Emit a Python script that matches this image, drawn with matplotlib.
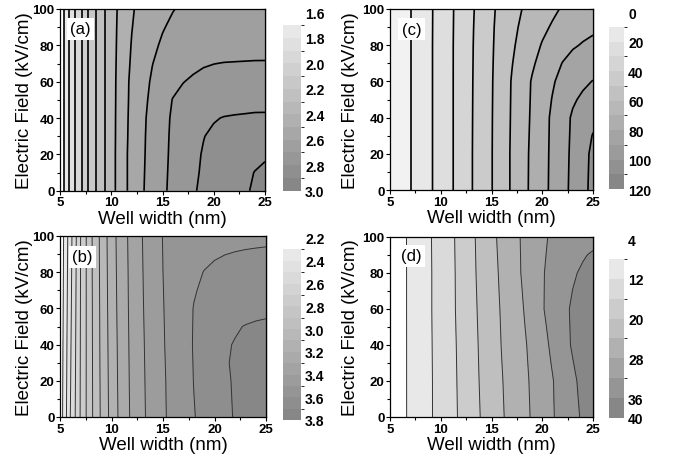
import numpy as np
import matplotlib
matplotlib.use("Agg")
import matplotlib.pyplot as plt
from matplotlib.colors import ListedColormap, BoundaryNorm
from matplotlib.cm import ScalarMappable
from matplotlib.ticker import MultipleLocator

plt.rcParams['font.family'] = ['Liberation Sans', 'DejaVu Sans']

# grid the maps were read on
well_width = [5, 6, 7, 8, 9, 10, 11, 12, 13, 14, 15, 16, 17, 18, 19, 20, 21, 22, 23, 24, 25]
e_field = [0, 10, 20, 30, 40, 50, 60, 70, 80, 90, 100]

# (a) one row per field value
za = [
    [1.63, 1.83, 1.98, 2.14, 2.26, 2.36, 2.46, 2.53, 2.59, 2.64, 2.685, 2.72, 2.755, 2.795, 2.81, 2.83, 2.85, 2.87, 2.89, 2.91, 2.93],
    [1.63, 1.83, 1.98, 2.14, 2.26, 2.36, 2.46, 2.53, 2.5875, 2.6375, 2.6825, 2.7175, 2.7525, 2.79, 2.8075, 2.825, 2.8425, 2.86, 2.882, 2.902, 2.915],
    [1.63, 1.83, 1.98, 2.14, 2.26, 2.36, 2.46, 2.53, 2.585, 2.635, 2.68, 2.715, 2.75, 2.785, 2.805, 2.82, 2.835, 2.85, 2.865, 2.878, 2.89],
    [1.63, 1.83, 1.98, 2.14, 2.26, 2.36, 2.457, 2.527, 2.583, 2.633, 2.678, 2.713, 2.745, 2.775, 2.798, 2.812, 2.82, 2.826, 2.83, 2.833, 2.835],
    [1.63, 1.83, 1.98, 2.14, 2.26, 2.36, 2.455, 2.525, 2.58, 2.63, 2.675, 2.71, 2.74, 2.765, 2.78, 2.795, 2.803, 2.806, 2.808, 2.81, 2.81],
    [1.63, 1.83, 1.98, 2.14, 2.26, 2.36, 2.452, 2.522, 2.575, 2.62, 2.66, 2.703, 2.72, 2.738, 2.75, 2.76, 2.766, 2.771, 2.774, 2.777, 2.778],
    [1.63, 1.83, 1.98, 2.14, 2.26, 2.36, 2.45, 2.52, 2.57, 2.61, 2.645, 2.675, 2.698, 2.71, 2.72, 2.728, 2.734, 2.738, 2.741, 2.743, 2.745],
    [1.63, 1.83, 1.98, 2.14, 2.26, 2.36, 2.445, 2.512, 2.56, 2.598, 2.628, 2.653, 2.672, 2.685, 2.694, 2.699, 2.702, 2.703, 2.704, 2.705, 2.705],
    [1.63, 1.83, 1.98, 2.14, 2.26, 2.36, 2.44, 2.505, 2.55, 2.585, 2.61, 2.63, 2.645, 2.655, 2.662, 2.667, 2.67, 2.672, 2.673, 2.674, 2.675],
    [1.63, 1.83, 1.98, 2.14, 2.26, 2.36, 2.435, 2.497, 2.54, 2.572, 2.595, 2.613, 2.627, 2.636, 2.643, 2.647, 2.65, 2.652, 2.654, 2.655, 2.656],
    [1.63, 1.83, 1.98, 2.14, 2.26, 2.36, 2.43, 2.49, 2.53, 2.56, 2.58, 2.597, 2.61, 2.618, 2.624, 2.628, 2.632, 2.635, 2.637, 2.639, 2.64],
]
levels_a = [1.6, 1.7, 1.8, 1.9, 2.0, 2.1, 2.2, 2.3, 2.4, 2.5, 2.6, 2.7, 2.8, 2.9, 3.0]
ticks_a = [1.6, 1.8, 2.0, 2.2, 2.4, 2.6, 2.8, 3.0]

# (b)
zb = [
    [2.233, 2.5, 2.71, 2.877, 3.013, 3.135, 3.239, 3.319, 3.384, 3.4375, 3.4875, 3.526, 3.561, 3.596, 3.625, 3.653, 3.681, 3.706, 3.726, 3.744, 3.76],
    [2.231, 2.496, 2.709, 2.8775, 3.0145, 3.137, 3.241, 3.3205, 3.3855, 3.439, 3.489, 3.5265, 3.563, 3.599, 3.629, 3.6565, 3.683, 3.708, 3.728, 3.746, 3.76],
    [2.229, 2.492, 2.708, 2.878, 3.016, 3.139, 3.243, 3.322, 3.387, 3.44, 3.49, 3.527, 3.565, 3.602, 3.633, 3.66, 3.685, 3.71, 3.73, 3.748, 3.76],
    [2.227, 2.4885, 2.707, 2.8785, 3.0175, 3.141, 3.2445, 3.3235, 3.3885, 3.4415, 3.492, 3.5285, 3.5675, 3.6035, 3.6325, 3.659, 3.694, 3.708, 3.725, 3.74, 3.75],
    [2.225, 2.485, 2.706, 2.879, 3.019, 3.143, 3.246, 3.325, 3.39, 3.443, 3.494, 3.53, 3.57, 3.605, 3.632, 3.658, 3.692, 3.704, 3.72, 3.732, 3.74],
    [2.223, 2.481, 2.705, 2.88, 3.02, 3.1455, 3.248, 3.3265, 3.392, 3.4445, 3.4955, 3.53, 3.57, 3.604, 3.63, 3.652, 3.672, 3.693, 3.703, 3.71, 3.715],
    [2.221, 2.477, 2.704, 2.88, 3.021, 3.148, 3.25, 3.328, 3.394, 3.446, 3.497, 3.53, 3.568, 3.603, 3.625, 3.642, 3.655, 3.665, 3.672, 3.677, 3.68],
    [2.219, 2.4735, 2.703, 2.881, 3.0225, 3.15, 3.2515, 3.329, 3.3955, 3.447, 3.4985, 3.53, 3.564, 3.594, 3.6135, 3.6275, 3.638, 3.646, 3.651, 3.655, 3.657],
    [2.217, 2.47, 2.702, 2.882, 3.024, 3.152, 3.253, 3.33, 3.397, 3.448, 3.5, 3.53, 3.56, 3.585, 3.602, 3.613, 3.621, 3.627, 3.631, 3.634, 3.635],
    [2.215, 2.466, 2.701, 2.8825, 3.0255, 3.154, 3.255, 3.3315, 3.3985, 3.4495, 3.5015, 3.5285, 3.5525, 3.5715, 3.5845, 3.593, 3.599, 3.603, 3.606, 3.608, 3.61],
    [2.2125, 2.4625, 2.7, 2.883, 3.027, 3.156, 3.257, 3.333, 3.4, 3.451, 3.503, 3.527, 3.545, 3.558, 3.567, 3.573, 3.577, 3.58, 3.582, 3.584, 3.585],
]
levels_b = [2.2, 2.3, 2.4, 2.5, 2.6, 2.7, 2.8, 2.9, 3.0, 3.1, 3.2, 3.3, 3.4, 3.5, 3.6, 3.7, 3.8]
ticks_b = [2.2, 2.4, 2.6, 2.8, 3.0, 3.2, 3.4, 3.6, 3.8]

# (c)
zc = [
    [1, 5, 9.7, 14.4, 19.1, 23.9, 28.8, 34.1, 39.4, 44.5, 49.6, 55.3, 61.1, 66.7, 72, 77, 82, 87.1, 92.2, 97.4, 102.6],
    [1, 5, 9.7, 14.4, 19.1, 23.9, 28.8, 34.1, 39.4, 44.5, 49.6, 55.3, 61.1, 66.65, 71.9, 76.9, 81.9, 86.95, 92, 97.2, 102.3],
    [1, 5, 9.7, 14.4, 19.1, 23.9, 28.8, 34.1, 39.4, 44.5, 49.6, 55.3, 61.1, 66.6, 71.8, 76.8, 81.8, 86.8, 91.8, 97, 102],
    [1, 5, 9.7, 14.4, 19.1, 23.9, 28.8, 34.1, 39.35, 44.45, 49.55, 55.2, 60.95, 66.4, 71.5, 76.55, 81.7, 86.5, 91.5, 96.3, 100.4],
    [1, 5, 9.7, 14.4, 19.1, 23.9, 28.8, 34.1, 39.3, 44.4, 49.5, 55.1, 60.8, 66.2, 71.2, 76.3, 81.6, 86.2, 91.2, 94.5, 98],
    [1, 5, 9.7, 14.4, 19.1, 23.9, 28.8, 34.1, 39.25, 44.3, 49.4, 55.05, 60.65, 65.9, 70.95, 75.7, 80.4, 84.8, 88.8, 91.6, 94],
    [1, 5, 9.7, 14.4, 19.1, 23.9, 28.8, 34.1, 39.2, 44.2, 49.3, 55, 60.5, 65.6, 70.7, 75, 79, 82.8, 85.8, 88.3, 90.3],
    [1, 5, 9.7, 14.4, 19.1, 23.9, 28.8, 34.05, 39.1, 44.1, 49.15, 54.4, 59.6, 64.2, 68.8, 72.8, 76.3, 80.3, 82.8, 84.5, 86],
    [1, 5, 9.7, 14.4, 19.1, 23.9, 28.8, 34.0, 39.0, 44.0, 49.0, 53.8, 58.6, 62.8, 66.8, 70.6, 73.4, 76.3, 79.1, 80.6, 81.5],
    [1, 5, 9.7, 14.4, 19.05, 23.85, 28.7, 33.9, 38.8, 43.8, 48.8, 53.3, 57.5, 61.5, 64.8, 68.1, 70.9, 73.5, 75.9, 77.5, 78.8],
    [1, 5, 9.7, 14.4, 19.0, 23.8, 28.6, 33.8, 38.5, 43.5, 48.5, 52.6, 56.3, 60, 62.8, 65.6, 68.3, 70.8, 72.8, 74.5, 76],
]
levels_c = [0, 10, 20, 30, 40, 50, 60, 70, 80, 90, 100, 110, 120]
ticks_c = [0, 20, 40, 60, 80, 100, 120]

# (d)
zd = [
    [5.4, 7.0, 8.56, 10.1, 11.7, 13.3, 14.9, 16.6, 18.4, 20.2, 21.9, 23.6, 25.2, 26.8, 28.3, 30.0, 31.7, 33.3, 34.9, 36.5, 38.0],
    [5.4, 7.0, 8.565, 10.1, 11.7, 13.325, 14.95, 16.65, 18.5, 20.3, 22.0, 23.7, 25.3, 26.85, 28.4, 30.1, 31.75, 33.45, 35.1, 36.75, 38.25],
    [5.4, 7.0, 8.57, 10.1, 11.7, 13.35, 15.0, 16.7, 18.6, 20.4, 22.1, 23.8, 25.4, 26.9, 28.5, 30.2, 31.8, 33.6, 35.3, 37.0, 38.5],
    [5.4, 7.0, 8.57, 10.1, 11.725, 13.375, 15.05, 16.75, 18.65, 20.5, 22.2, 23.95, 25.5, 27.05, 28.7, 30.5, 32.25, 34.1, 35.85, 37.5, 38.85],
    [5.4, 7.0, 8.57, 10.1, 11.75, 13.4, 15.1, 16.8, 18.7, 20.6, 22.3, 24.1, 25.6, 27.2, 28.9, 30.8, 32.7, 34.6, 36.4, 38.0, 39.2],
    [5.4, 7.0, 8.575, 10.125, 11.775, 13.45, 15.15, 16.9, 18.8, 20.7, 22.45, 24.2, 25.8, 27.45, 29.25, 31.25, 33.05, 34.8, 36.45, 38.0, 39.25],
    [5.4, 7.0, 8.58, 10.15, 11.8, 13.5, 15.2, 17.0, 18.9, 20.8, 22.6, 24.3, 26.0, 27.7, 29.6, 31.7, 33.4, 35.0, 36.5, 38.0, 39.3],
    [5.4, 7.0, 8.58, 10.175, 11.8, 13.5, 15.2, 17.05, 19.0, 20.9, 22.7, 24.45, 26.2, 27.95, 29.8, 31.7, 33.25, 34.7, 36.05, 37.25, 38.45],
    [5.4, 7.0, 8.58, 10.2, 11.8, 13.5, 15.2, 17.1, 19.1, 21.0, 22.8, 24.6, 26.4, 28.2, 30.0, 31.7, 33.1, 34.4, 35.6, 36.5, 37.6],
    [5.4, 7.0, 8.59, 10.2, 11.825, 13.55, 15.25, 17.15, 19.15, 21.1, 22.95, 24.75, 26.5, 28.25, 29.9, 31.5, 32.85, 33.9, 34.8, 35.7, 36.4],
    [5.4, 7.0, 8.6, 10.2, 11.85, 13.6, 15.3, 17.2, 19.2, 21.2, 23.1, 24.9, 26.6, 28.3, 29.8, 31.3, 32.6, 33.4, 34.0, 34.5, 34.8],
]
levels_d = [4, 8, 12, 16, 20, 24, 28, 32, 36, 40]
ticks_d = [4, 12, 20, 28, 36, 40]

W, H = 681, 464
fig = plt.figure(figsize=(W / 100, H / 100), dpi=100)


def px_axes(x0, y0, x1, y1):
    # box given in pixels from the top-left corner
    return fig.add_axes([x0 / W, 1 - y1 / H, (x1 - x0) / W, (y1 - y0) / H])


def gray_bands(n, first):
    g = np.linspace(0.91, 0.53, n - 1)
    return [first] + [(v, v, v) for v in g]


def panel(box, cbox, z, levels, ticks, tag, tag_xy, lw, lc, first, fmt, ylab_x):
    ax = px_axes(*box)
    cols = gray_bands(len(levels) - 1, first)
    ax.contourf(well_width, e_field, z, levels=levels, colors=cols)
    ax.contour(well_width, e_field, z, levels=levels[1:-1], colors=lc, linewidths=lw)
    ax.set_xlim(5, 25)
    ax.set_ylim(0, 100)
    ax.xaxis.set_major_locator(MultipleLocator(5))
    ax.xaxis.set_minor_locator(MultipleLocator(2.5))
    ax.yaxis.set_major_locator(MultipleLocator(20))
    ax.yaxis.set_minor_locator(MultipleLocator(10))
    ax.tick_params(which='both', direction='out', labelsize=9.5, pad=1, width=0.8)
    ax.tick_params(which='major', length=3)
    ax.tick_params(which='minor', length=2)
    for lab in ax.get_xticklabels() + ax.get_yticklabels():
        lab.set_fontweight('bold')
    for sp in ax.spines.values():
        sp.set_linewidth(0.9)

    # inward ticks on the right edge only
    sec = ax.secondary_yaxis('right')
    sec.yaxis.set_major_locator(MultipleLocator(20))
    sec.yaxis.set_minor_locator(MultipleLocator(10))
    sec.tick_params(which='both', direction='in', labelright=False, width=0.8)
    sec.tick_params(which='major', length=3)
    sec.tick_params(which='minor', length=2)
    sec.spines['right'].set_linewidth(0.9)

    ax.set_xlabel('Well width (nm)', fontsize=13.5, labelpad=1)
    ax.set_ylabel('Electric Field (kV/cm)', fontsize=13.5)
    ax.yaxis.set_label_coords(ylab_x, 0.5)
    ax.text(tag_xy[0], tag_xy[1], tag, transform=ax.transAxes, ha='center', va='center',
            fontsize=12, bbox=dict(facecolor='white', edgecolor='none', pad=2.5))

    # legend bar: lowest band is left white like the original
    cax = px_axes(*cbox)
    bar_cols = ['white'] + cols[1:]
    sm = ScalarMappable(norm=BoundaryNorm(levels, len(levels) - 1), cmap=ListedColormap(bar_cols))
    cb = fig.colorbar(sm, cax=cax, ticks=ticks)
    cb.outline.set_visible(False)
    cax.invert_yaxis()
    cax.tick_params(length=0, labelsize=10, pad=3)
    cb.set_ticklabels([fmt.format(t) for t in ticks], fontweight='bold')
    return ax


panel((60, 10, 265, 191.7), (283, 13.3, 301, 191.7), za, levels_a, ticks_a, '(a)', (0.10, 0.89),
      1.2, 'k', 'white', '{:.1f}', -0.132)
panel((60, 237, 266, 418), (283, 239, 301, 421), zb, levels_b, ticks_b, '(b)', (0.109, 0.884),
      0.7, '#333333', 'white', '{:.1f}', -0.132)
panel((390, 10, 593, 191), (609, 13.3, 624, 190), zc, levels_c, ticks_c, '(c)', (0.107, 0.887),
      1.2, 'k', (0.95, 0.95, 0.95), '{:d}', -0.153)
panel((390, 238, 593, 418), (609, 240, 624, 419), zd, levels_d, ticks_d, '(d)', (0.103, 0.897),
      0.7, '#333333', 'white', '{:d}', -0.153)

fig.savefig('out.png', dpi=100)
